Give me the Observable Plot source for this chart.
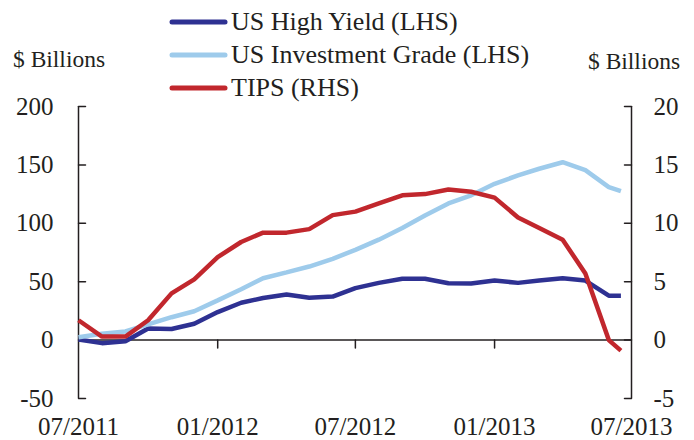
<!DOCTYPE html>
<html><head><meta charset="utf-8">
<script src="https://cdn.jsdelivr.net/npm/d3@7"></script>
<script src="https://cdn.jsdelivr.net/npm/@observablehq/plot@0.6"></script>
<style>
body{margin:0;background:#fff;}
#wrap{position:relative;width:694px;height:440px;}
#wrap svg{position:absolute;left:0;top:0;overflow:visible;}
</style></head><body><div id="wrap"></div>
<script>
// Monthly observations (last one mid-June 2013)
const months = ["2011-07-01","2011-08-01","2011-09-01","2011-10-01","2011-11-01","2011-12-01",
  "2012-01-01","2012-02-01","2012-03-01","2012-04-01","2012-05-01","2012-06-01",
  "2012-07-01","2012-08-01","2012-09-01","2012-10-01","2012-11-01","2012-12-01",
  "2013-01-01","2013-02-01","2013-03-01","2013-04-01","2013-05-01","2013-06-01","2013-06-17"];
// $ Billions, left-hand scale
const highYield = [0.5,-2.6,-1,10,9.5,14,24,32,36,39,36.2,37.3,44.5,49,52.5,52.5,48.7,48.5,51,49,51,53,51,38,38];
const investmentGrade = [2.5,5.4,7.4,13.4,19.6,24.7,34,43.5,53,58,63,69.6,77.3,86,96,106.7,117,124,133.8,141,146.7,152.3,145.5,131,127.5];
// $ Billions, right-hand scale
const tips = [1.7,0.3,0.3,1.7,4.0,5.2,7.1,8.4,9.2,9.2,9.5,10.7,11.0,11.7,12.4,12.5,12.9,12.7,12.2,10.5,9.6,8.6,5.7,0.0,-0.9];

const seriesNames = ["US High Yield (LHS)", "US Investment Grade (LHS)", "TIPS (RHS)"];
const seriesColors = ["#2e3192", "#9ecbeb", "#c1272d"];
const leftTicks = [-50, 0, 50, 100, 150, 200];
const rightTicks = [-5, 0, 5, 10, 15, 20];
const xTickDates = ["2011-07-01","2012-01-01","2012-07-01","2013-01-01","2013-07-01"];
const axisTitle = "$ Billions";

const rhsFactor = leftTicks[leftTicks.length-1] / rightTicks[rightTicks.length-1];
const parse = d3.utcParse("%Y-%m-%d");
const xTicks = xTickDates.map(parse);
const seriesValues = [highYield, investmentGrade, tips.map(v => v * rhsFactor)];
const data = [];
seriesNames.forEach((name, s) => {
  months.forEach((m, i) => data.push({date: parse(m), series: name, value: seriesValues[s][i]}));
});

const ink = "#231f20";
const font = "'Liberation Serif', 'Times New Roman', serif";
const tickLine = {draw(ctx, l) { ctx.moveTo(0, 0); ctx.lineTo(0, -l); }};

const chart = Plot.plot({
  width: 694, height: 440,
  marginLeft: 78, marginRight: 63, marginTop: 106, marginBottom: 42,
  style: {fontFamily: font, fontSize: "25px", color: ink, background: "transparent", overflow: "visible"},
  x: {type: "utc", domain: [xTicks[0], xTicks[xTicks.length-1]], label: null},
  y: {domain: [leftTicks[0], leftTicks[leftTicks.length-1]], label: null},
  color: {domain: seriesNames, range: seriesColors},
  marks: [
    Plot.ruleY([0], {stroke: ink, strokeWidth: 1.5}),
    Plot.ruleX([xTicks[0], xTicks[xTicks.length-1]], {stroke: ink, strokeWidth: 1.5}),
    Plot.vector(xTicks.slice(1, -1), {x: d => d, y: 0, length: 8, rotate: 180, anchor: "start", shape: tickLine, stroke: ink, strokeWidth: 1.5}),
    Plot.vector(leftTicks, {x: xTicks[0], y: d => d, length: 7, rotate: 90, anchor: "start", shape: tickLine, stroke: ink, strokeWidth: 1.5}),
    Plot.vector(leftTicks, {x: xTicks[xTicks.length-1], y: d => d, length: 7, rotate: -90, anchor: "start", shape: tickLine, stroke: ink, strokeWidth: 1.5}),
    Plot.axisY({anchor: "left", ticks: leftTicks, tickSize: 0, tickPadding: 25, tickFormat: d => String(d), label: null, fill: ink}),
    Plot.axisY({anchor: "right", ticks: leftTicks, tickSize: 0, tickPadding: 22, tickFormat: d => String(d / rhsFactor), label: null, fill: ink}),
    Plot.axisX({anchor: "bottom", ticks: xTicks, tickSize: 0, tickPadding: 19, tickFormat: d3.utcFormat("%m/%Y"), label: null, fill: ink}),
    Plot.line(data, {x: "date", y: "value", z: "series", stroke: "series", strokeWidth: 4.5, strokeLinejoin: "miter", strokeLinecap: "butt"})
  ]
});
const wrap = document.getElementById("wrap");
wrap.appendChild(chart);

// Legend and axis titles overlay
const svg = d3.select(wrap).append("svg").attr("width", 694).attr("height", 440)
  .style("font-family", font).style("fill", ink);
const rowY = [22, 55, 88];
seriesNames.forEach((name, i) => {
  svg.append("line").attr("x1", 172).attr("x2", 225).attr("y1", rowY[i]).attr("y2", rowY[i])
    .attr("stroke", seriesColors[i]).attr("stroke-width", 5).attr("stroke-linecap", "round");
  svg.append("text").attr("x", 231).attr("y", rowY[i] + 8).attr("font-size", 26).attr("fill", ink).text(name);
});
svg.append("text").attr("x", 13).attr("y", 67).attr("font-size", 23.5).attr("fill", ink).text(axisTitle);
svg.append("text").attr("x", 588).attr("y", 69).attr("font-size", 23.5).attr("fill", ink).text(axisTitle);
</script></body></html>
